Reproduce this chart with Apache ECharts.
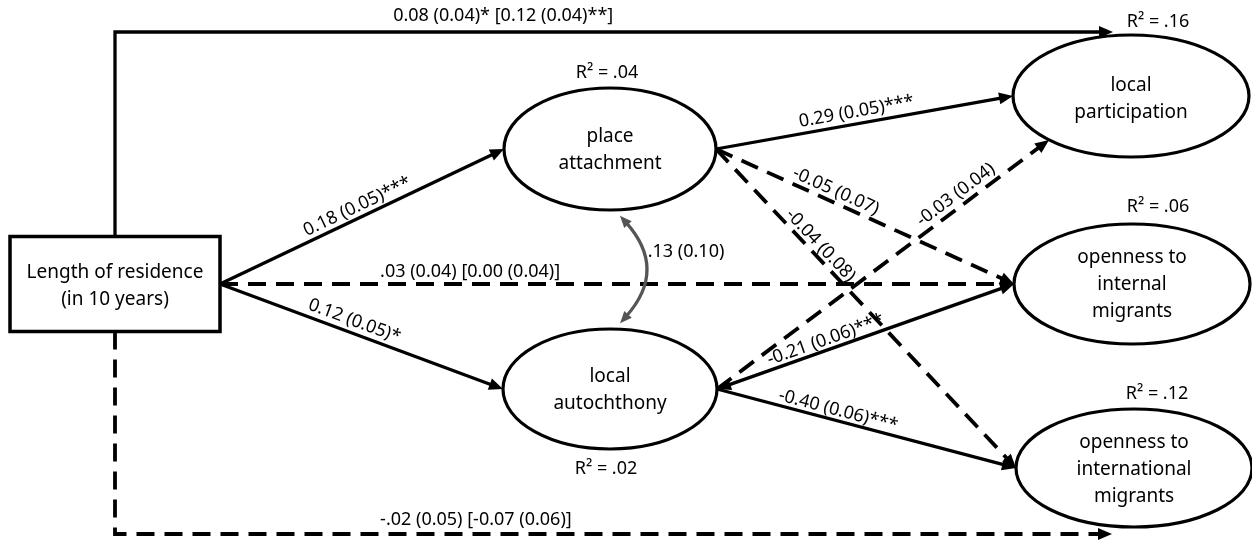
<!DOCTYPE html>
<html>
<head>
<meta charset="utf-8">
<script src="https://cdn.jsdelivr.net/npm/echarts@6/dist/echarts.min.js"></script>
<style>
html,body{margin:0;padding:0;background:#ffffff;}
#chart{width:1252px;height:541px;}
</style>
</head>
<body>
<div id="chart"></div>
<script>
// ---------------- DATA ----------------
const nodeIds = ['LOR', 'PA', 'LA', 'LP', 'OI', 'OX'];
const nodeTexts = [
  ['Length of residence', '(in 10 years)'],
  ['place', 'attachment'],
  ['local', 'autochthony'],
  ['local', 'participation'],
  ['openness to', 'internal', 'migrants'],
  ['openness to', 'international', 'migrants']
];
const rSquared = ['', '.04', '.02', '.16', '.06', '.12'];

const pathFrom = ['LOR', 'LOR', 'LOR', 'LOR', 'LOR', 'PA', 'PA', 'PA', 'LA', 'LA', 'LA'];
const pathTo   = ['PA', 'LA', 'OI', 'LP', 'OX', 'LP', 'OI', 'OX', 'LP', 'OI', 'OX'];
const pathEstimates = [
  '0.18 (0.05)***',
  '0.12 (0.05)*',
  '.03 (0.04) [0.00 (0.04)]',
  '0.08 (0.04)* [0.12 (0.04)**]',
  '-.02 (0.05) [-0.07 (0.06)]',
  '0.29 (0.05)***',
  '-0.05 (0.07)',
  '-0.04 (0.08)',
  '-0.03 (0.04)',
  '-0.21 (0.06)***',
  '-0.40 (0.06)***'
];
const pathSignificant = [true, true, false, true, false, true, false, false, false, true, true];

const covFrom = 'PA';
const covTo = 'LA';
const covEstimate = '.13 (0.10)';

// ---------------- LAYOUT (positions / sizes / styles) ----------------
const W = 1252, H = 541;
const nodeLayout = {
  LOR: { kind: 'rect', cx: 115, cy: 284, w: 210, h: 95, textDy: 2 },
  PA:  { kind: 'ellipse', cx: 610, cy: 149, rx: 106, ry: 61, textDy: 1 },
  LA:  { kind: 'ellipse', cx: 610, cy: 389, rx: 107, ry: 60, textDy: 1 },
  LP:  { kind: 'ellipse', cx: 1131, cy: 96, rx: 118, ry: 61, textDy: 3 },
  OI:  { kind: 'ellipse', cx: 1132, cy: 284, rx: 118, ry: 60, textDy: 1 },
  OX:  { kind: 'ellipse', cx: 1134, cy: 468, rx: 118, ry: 59, textDy: 2 }
};
const r2Offset = { PA: [-3, -76], LA: [-4, 80], LP: [27, -74], OI: [26, -77], OX: [23, -74] };
const lineHeight = 27;

// route layout per path: anchor angles (deg), elbow routes, label placement
const routeLayout = [
  { fromA: 0, toA: 180, t: 0.50, off: 11 },
  { fromA: 0, toA: 180, t: 0.46, off: 12 },
  { fromA: 0, toA: 180, t: 0.315, off: 12 },
  { fromA: 270, elbowY: 32, endDx: -18, t: 0.389, off: 16 },
  { fromA: 90, elbowY: 534, endDx: -22, t: 0.362, off: 14 },
  { fromA: 0, toA: 180, t: 0.48, off: 12 },
  { fromA: 0, toA: 180, t: 0.387, off: 11 },
  { fromA: 0, toA: 180, t: 0.324, off: 10 },
  { fromA: 0, toA: 134, t: 0.741, off: 12 },
  { fromA: 0, toA: 180, t: 0.377, off: 10, both: true },
  { fromA: 0, toA: 180, t: 0.397, off: 10 }
];
const covLayout = { fromA: 84.6, toA: 275.4, gap: 6, ctrl: 48, labelDx: 66, labelDy: -18 };

const FONT = '"Noto Sans", "DejaVu Sans", sans-serif';
const INK = '#000000';
const GREY = '#555555';
const DASH = [18, 10];
const ARROW_LEN = 14, ARROW_HW = 6;

// ---------------- GEOMETRY HELPERS ----------------
function anchor(id, deg) {
  const nd = nodeLayout[id];
  const a = deg * Math.PI / 180, c = Math.cos(a), s = Math.sin(a);
  if (nd.kind === 'rect') {
    const tx = Math.abs(c) > 1e-9 ? (nd.w / 2) / Math.abs(c) : Infinity;
    const ty = Math.abs(s) > 1e-9 ? (nd.h / 2) / Math.abs(s) : Infinity;
    const t = Math.min(tx, ty);
    return [nd.cx + c * t, nd.cy + s * t];
  }
  return [nd.cx + nd.rx * c, nd.cy + nd.ry * s];
}
function routePoints(i) {
  const L = routeLayout[i];
  const start = anchor(pathFrom[i], L.fromA);
  if (L.elbowY !== undefined) {
    const to = nodeLayout[pathTo[i]];
    return [start, [start[0], L.elbowY], [to.cx + L.endDx, L.elbowY]];
  }
  return [start, anchor(pathTo[i], L.toA)];
}
function arrowHead(tip, dir, color) {
  const bx = tip[0] - dir[0] * ARROW_LEN, by = tip[1] - dir[1] * ARROW_LEN;
  const px = -dir[1], py = dir[0];
  return {
    type: 'polygon',
    shape: { points: [tip, [bx + px * ARROW_HW, by + py * ARROW_HW], [bx - px * ARROW_HW, by - py * ARROW_HW]] },
    style: { fill: color, stroke: null }
  };
}
function unit(a, b) {
  const dx = b[0] - a[0], dy = b[1] - a[1], l = Math.hypot(dx, dy);
  return [dx / l, dy / l];
}

// ---------------- SERIES ----------------
function renderNode(params, api) {
  const id = nodeIds[params.dataIndex];
  const nd = nodeLayout[id];
  const c = api.coord([nd.cx, nd.cy]);
  const children = [];
  if (nd.kind === 'rect') {
    children.push({ type: 'rect', shape: { x: c[0] - nd.w / 2, y: c[1] - nd.h / 2, width: nd.w, height: nd.h },
      style: { fill: '#fff', stroke: INK, lineWidth: 3.5 } });
  } else {
    children.push({ type: 'ellipse', shape: { cx: c[0], cy: c[1], rx: nd.rx, ry: nd.ry },
      style: { fill: '#fff', stroke: INK, lineWidth: 3.2 } });
  }
  const lines = nodeTexts[params.dataIndex];
  lines.forEach(function (txt, k) {
    children.push({ type: 'text', x: c[0], y: c[1] + nd.textDy + (k - (lines.length - 1) / 2) * lineHeight,
      style: { text: txt, align: 'center', verticalAlign: 'middle', fontSize: 19, fontFamily: FONT, fill: INK } });
  });
  const r2 = rSquared[params.dataIndex];
  if (r2) {
    const o = r2Offset[id];
    children.push({ type: 'text', x: c[0] + o[0], y: c[1] + o[1],
      style: { text: 'R\u00B2 = ' + r2, align: 'center', verticalAlign: 'middle', fontSize: 18, fontFamily: FONT, fill: INK } });
  }
  return { type: 'group', children: children };
}

function renderPath(params, api) {
  const i = params.dataIndex;
  const L = routeLayout[i];
  const pts = routePoints(i).map(function (p) { return api.coord(p); });
  const n = pts.length;
  const dirEnd = unit(pts[n - 2], pts[n - 1]);
  const linePts = pts.map(function (p) { return p.slice(); });
  linePts[n - 1] = [pts[n - 1][0] - dirEnd[0] * (ARROW_LEN - 3), pts[n - 1][1] - dirEnd[1] * (ARROW_LEN - 3)];
  const children = [];
  const dirStart = unit(pts[1], pts[0]);
  if (L.both) {
    linePts[0] = [pts[0][0] - dirStart[0] * (ARROW_LEN - 3), pts[0][1] - dirStart[1] * (ARROW_LEN - 3)];
  }
  const sig = pathSignificant[i];
  children.push({ type: 'polyline', shape: { points: linePts },
    style: { stroke: INK, lineWidth: sig ? 3.3 : 3.8, lineDash: sig ? null : DASH, fill: null, lineJoin: 'miter' } });
  children.push(arrowHead(pts[n - 1], dirEnd, INK));
  if (L.both) children.push(arrowHead(pts[0], dirStart, INK));
  // label on last segment
  const a = pts[n - 2], b = pts[n - 1];
  const u = unit(a, b);
  const len = Math.hypot(b[0] - a[0], b[1] - a[1]);
  const nx = u[1], ny = -u[0];
  const lx = a[0] + u[0] * len * L.t + nx * L.off;
  const ly = a[1] + u[1] * len * L.t + ny * L.off;
  let rot = -Math.atan2(u[1], u[0]);
  if (Math.abs(rot) < 1e-6) rot = 0;
  children.push({ type: 'text', x: lx, y: ly, rotation: rot,
    style: { text: pathEstimates[i], align: 'center', verticalAlign: 'middle', fontSize: 18, fontFamily: FONT, fill: INK } });
  return { type: 'group', children: children };
}

function renderCov(params, api) {
  const C = covLayout;
  const p0 = anchor(covFrom, C.fromA), p1 = anchor(covTo, C.toA);
  let s = api.coord(p0), e = api.coord(p1);
  const ch = unit(s, e);
  s = [s[0] + ch[0] * C.gap, s[1] + ch[1] * C.gap];
  e = [e[0] - ch[0] * C.gap, e[1] - ch[1] * C.gap];
  const mid = [(s[0] + e[0]) / 2, (s[1] + e[1]) / 2];
  const ctrl = [mid[0] + Math.abs(ch[1]) * C.ctrl, mid[1]];
  const dS = unit(ctrl, s), dE = unit(ctrl, e);
  const sl = [s[0] - dS[0] * 9, s[1] - dS[1] * 9];
  const el = [e[0] - dE[0] * 9, e[1] - dE[1] * 9];
  const hw = 5;
  function head(tip, d) {
    const bx = tip[0] - d[0] * 12, by = tip[1] - d[1] * 12;
    return { type: 'polygon', shape: { points: [tip, [bx - d[1] * hw, by + d[0] * hw], [bx + d[1] * hw, by - d[0] * hw]] },
      style: { fill: GREY, stroke: null } };
  }
  return { type: 'group', children: [
    { type: 'bezierCurve', shape: { x1: sl[0], y1: sl[1], x2: el[0], y2: el[1], cpx1: ctrl[0], cpy1: ctrl[1] },
      style: { stroke: GREY, lineWidth: 3.2, fill: null } },
    head(s, dS), head(e, dE),
    { type: 'text', x: mid[0] + C.labelDx, y: mid[1] + C.labelDy,
      style: { text: covEstimate, align: 'center', verticalAlign: 'middle', fontSize: 18, fontFamily: FONT, fill: INK } }
  ] };
}

const chart = echarts.init(document.getElementById('chart'), null, { renderer: 'canvas' });
chart.setOption({
  animation: false,
  backgroundColor: '#ffffff',
  grid: { left: 0, right: 0, top: 0, bottom: 0 },
  xAxis: { type: 'value', min: 0, max: W, show: false },
  yAxis: { type: 'value', min: 0, max: H, inverse: true, show: false },
  series: [
    { type: 'custom', coordinateSystem: 'cartesian2d', clip: false, z: 1,
      data: pathFrom.map(function (_, i) { return [i, 0]; }), renderItem: renderPath },
    { type: 'custom', coordinateSystem: 'cartesian2d', clip: false, z: 2,
      data: [[0, 0]], renderItem: renderCov },
    { type: 'custom', coordinateSystem: 'cartesian2d', clip: false, z: 0,
      data: nodeIds.map(function (_, i) { return [i, 0]; }), renderItem: renderNode }
  ]
});
</script>
</body>
</html>
